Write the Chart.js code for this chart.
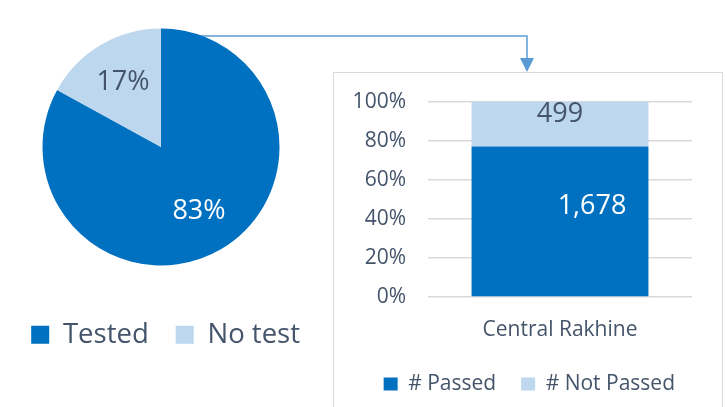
<!DOCTYPE html>
<html>
<head>
<meta charset="utf-8">
<script src="https://cdn.jsdelivr.net/npm/chart.js@4"></script>
<style>
  html, body { margin: 0; padding: 0; background: #fff; overflow: hidden; }
  body { width: 727px; height: 407px; position: relative; }
  #link { position: absolute; left: 0; top: 0; }
  #pieWrap { position: absolute; left: -5px; top: 0; width: 332px; height: 400px; }
  #barBox { position: absolute; left: 333px; top: 72px; width: 388px; height: 360px; border: 1px solid #d9d9d9; }
  #barWrap { position: absolute; left: 334px; top: 67px; width: 366px; height: 360px; }
</style>
</head>
<body>
<svg id="link" width="727" height="407">
  <polyline points="197,36 527,36 527,60" fill="none" stroke="#5b9bd5" stroke-width="1.5"/>
  <polygon points="520,58 534,58 527,72" fill="#5b9bd5"/>
</svg>
<div id="barBox"></div>
<div id="pieWrap"><canvas id="pieChart"></canvas></div>
<div id="barWrap"><canvas id="barChart"></canvas></div>
<script>
// pie: share of tested
const pieLabels = ['Tested', 'No test'];
const pieValues = [83, 17];

// bar: tests passed in Central Rakhine
const barCategories = ['Central Rakhine'];
const passedCounts = [1678];
const notPassedCounts = [499];
const percentTicks = [0, 20, 40, 60, 80, 100];

const darkBlue = '#0070c0';
const lightBlue = '#bdd7ee';
const textColor = '#44546a';

Chart.defaults.font.family = '"Open Sans", sans-serif';
Chart.defaults.color = textColor;

const pieText = {
  id: 'pieText',
  afterDatasetsDraw(chart) {
    const ctx = chart.ctx;
    const colors = ['#ffffff', textColor];
    chart.getDatasetMeta(0).data.forEach((arc, i) => {
      const mid = (arc.startAngle + arc.endAngle) / 2;
      const r = arc.outerRadius * 0.63;
      ctx.save();
      ctx.font = '27px "Open Sans"';
      ctx.fillStyle = colors[i];
      ctx.textAlign = 'center';
      ctx.textBaseline = 'middle';
      ctx.fillText(pieValues[i] + '%', arc.x + Math.cos(mid) * r, arc.y + Math.sin(mid) * r);
      ctx.restore();
    });
  }
};

new Chart(document.getElementById('pieChart'), {
  type: 'pie',
  data: {
    labels: pieLabels,
    datasets: [{
      data: pieValues,
      backgroundColor: [darkBlue, lightBlue],
      borderWidth: 0,
      radius: 118.5
    }]
  },
  options: {
    responsive: true,
    maintainAspectRatio: false,
    animation: false,
    layout: { padding: { top: 0, bottom: 41.5 } },
    plugins: {
      tooltip: { enabled: false },
      legend: {
        position: 'bottom',
        align: 'end',
        labels: {
          boxWidth: 18,
          boxHeight: 18,
          padding: 27,
          color: textColor,
          font: { size: 27.5 }
        }
      }
    }
  },
  plugins: [pieText]
});

// share of each stack, in percent
const totals = passedCounts.map((v, i) => v + notPassedCounts[i]);
const passedPct = passedCounts.map((v, i) => v / totals[i] * 100);
const notPassedPct = notPassedCounts.map((v, i) => v / totals[i] * 100);

const barText = {
  id: 'barText',
  afterDatasetsDraw(chart) {
    const ctx = chart.ctx;
    const setups = [
      { counts: passedCounts, color: '#ffffff', dx: 32, dy: 60 },
      { counts: notPassedCounts, color: textColor, dx: 0, dy: 13 }
    ];
    setups.forEach((s, d) => {
      chart.getDatasetMeta(d).data.forEach((bar, i) => {
        ctx.save();
        ctx.font = '27px "Open Sans"';
        ctx.fillStyle = s.color;
        ctx.textAlign = 'center';
        ctx.textBaseline = 'middle';
        ctx.fillText(s.counts[i].toLocaleString('en-US'), bar.x + s.dx, bar.y + s.dy);
        ctx.restore();
      });
    });
  }
};

new Chart(document.getElementById('barChart'), {
  type: 'bar',
  data: {
    labels: barCategories,
    datasets: [
      { label: '# Passed', data: passedPct, backgroundColor: darkBlue, barPercentage: 0.67, categoryPercentage: 1 },
      { label: '# Not Passed', data: notPassedPct, backgroundColor: lightBlue, barPercentage: 0.67, categoryPercentage: 1 }
    ]
  },
  options: {
    responsive: true,
    maintainAspectRatio: false,
    animation: false,
    layout: { padding: { top: 20, bottom: 22.5 } },
    scales: {
      x: {
        stacked: true,
        grid: { display: false, drawTicks: false },
        border: { display: false },
        ticks: { padding: 20, color: textColor, font: { size: 21 } },
        afterFit: a => { a.height = 51.5; }
      },
      y: {
        stacked: true,
        min: 0,
        max: 100,
        afterBuildTicks: a => { a.ticks = percentTicks.map(v => ({ value: v })); },
        grid: { color: '#d9d9d9', lineWidth: 1.5, drawTicks: false },
        border: { display: false },
        ticks: { padding: 22, color: textColor, font: { size: 21 }, callback: v => v + '%' },
        afterFit: a => { a.width = 94; }
      },
      y2: {
        position: 'right',
        display: true,
        grid: { display: false, drawTicks: false },
        border: { display: false },
        ticks: { display: false },
        afterFit: a => { a.width = 8; }
      }
    },
    plugins: {
      tooltip: { enabled: false },
      legend: {
        position: 'bottom',
        align: 'end',
        labels: {
          boxWidth: 14,
          boxHeight: 13,
          padding: 25,
          color: textColor,
          font: { size: 21 }
        }
      }
    }
  },
  plugins: [barText]
});
</script>
</body>
</html>
